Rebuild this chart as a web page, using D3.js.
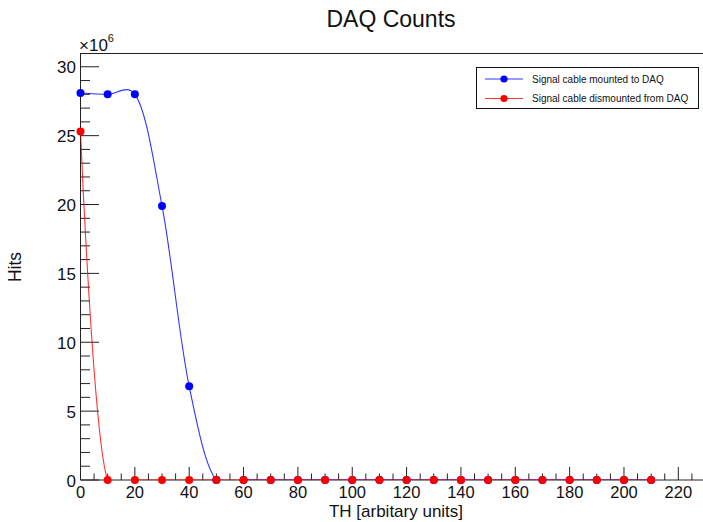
<!DOCTYPE html>
<html>
<head>
<meta charset="utf-8">
<script src="https://cdn.jsdelivr.net/npm/d3@7"></script>
<style>
  html, body { margin: 0; padding: 0; background: #fff; }
  svg { display: block; }
  text { font-family: "Liberation Sans", Arial, Helvetica, sans-serif; fill: #111; }
</style>
</head>
<body>
<svg id="chart" width="703" height="522"></svg>
<script>
// Threshold settings scanned (arbitrary units)
const thresholds = [0, 10, 20, 30, 40, 50, 60, 70, 80, 90, 100, 110, 120, 130, 140, 150, 160, 170, 180, 190, 200, 210];
// Hits, in units of 1e6
const mountedHits    = [28.1, 28.0, 28.0, 19.9, 6.8, 0, 0, 0, 0, 0, 0, 0, 0, 0, 0, 0, 0, 0, 0, 0, 0, 0];
const dismountedHits = [25.3, 0, 0, 0, 0, 0, 0, 0, 0, 0, 0, 0, 0, 0, 0, 0, 0, 0, 0, 0, 0, 0];
const seriesNames = ["Signal cable mounted to DAQ", "Signal cable dismounted from DAQ"];
const seriesColors = ["#0000ff", "#ff0000"];
const xMajorTicks = [0, 20, 40, 60, 80, 100, 120, 140, 160, 180, 200, 220];
const yMajorTicks = [0, 5, 10, 15, 20, 25, 30];

const svg = d3.select("#chart");
const plotLeft = 80.5, plotRight = 705.5, plotTop = 53, plotBottom = 480;

const x = d3.scaleLinear().domain([0, 230]).range([plotLeft, plotRight]);
const y = d3.scaleLinear().domain([0, 31]).range([plotBottom, plotTop]);

// Title
svg.append("text").attr("x", 391).attr("y", 27).attr("text-anchor", "middle")
  .style("font-size", "23px").text("DAQ Counts");

// Frame (top edge; the right edge lies beyond the canvas)
svg.append("line").attr("x1", plotLeft).attr("x2", plotRight).attr("y1", plotTop + 0.5).attr("y2", plotTop + 0.5)
  .attr("stroke", "#222").attr("stroke-width", 1);

// Clip for the curves
svg.append("defs").append("clipPath").attr("id", "plotclip")
  .append("rect").attr("x", plotLeft).attr("y", plotTop).attr("width", plotRight - plotLeft).attr("height", plotBottom - plotTop);

// X axis: major ticks every 20, minor every 5, drawn inward
const xMinor = d3.range(0, 231, 5).filter(v => v % 20 !== 0);
const xAxis = svg.append("g").attr("transform", `translate(0,${plotBottom})`);
xAxis.append("line").attr("x1", plotLeft).attr("x2", plotRight).attr("stroke", "#222");
xAxis.selectAll(".xmaj").data(xMajorTicks).join("line")
  .attr("x1", d => x(d)).attr("x2", d => x(d)).attr("y1", 0).attr("y2", -13).attr("stroke", "#222");
xAxis.selectAll(".xmin").data(xMinor).join("line")
  .attr("x1", d => x(d)).attr("x2", d => x(d)).attr("y1", 0).attr("y2", -6.5).attr("stroke", "#222");
xAxis.selectAll(".xlab").data(xMajorTicks).join("text")
  .attr("x", d => x(d)).attr("y", 17.5).attr("text-anchor", "middle")
  .style("font-size", "16.5px").text(d => d);

// Y axis: major ticks every 5, minor every 1
const yMinor = d3.range(0, 31, 1).filter(v => v % 5 !== 0);
const yAxis = svg.append("g").attr("transform", `translate(${plotLeft},0)`);
yAxis.append("line").attr("y1", plotTop).attr("y2", plotBottom).attr("stroke", "#222");
yAxis.selectAll(".ymaj").data(yMajorTicks).join("line")
  .attr("y1", d => y(d)).attr("y2", d => y(d)).attr("x1", 0).attr("x2", 18.5).attr("stroke", "#222");
yAxis.selectAll(".ymin").data(yMinor).join("line")
  .attr("y1", d => y(d)).attr("y2", d => y(d)).attr("x1", 0).attr("x2", 9.5).attr("stroke", "#222");
yAxis.selectAll(".ylab").data(yMajorTicks).join("text")
  .attr("x", -4.5).attr("y", d => y(d) + 6.5).attr("text-anchor", "end")
  .style("font-size", "17px").text(d => d);

// Exponent label
const expo = svg.append("text").attr("x", 79).attr("y", 51).style("font-size", "17px");
expo.append("tspan").text("\u00d710");
expo.append("tspan").attr("dy", -9).style("font-size", "11px").text("6");

// Axis titles
svg.append("text").attr("x", 396).attr("y", 516.5).attr("text-anchor", "middle")
  .style("font-size", "17px").text("TH [arbitary units]");
svg.append("text").attr("transform", "translate(21,267) rotate(-90)").attr("text-anchor", "middle")
  .style("font-size", "17.5px").text("Hits");

// Curves and markers
const series = [mountedHits, dismountedHits];
const line = d3.line()
  .x((d, i) => x(thresholds[i]))
  .y(d => y(d))
  .curve(d3.curveCatmullRom.alpha(0.25));

series.forEach((vals, k) => {
  svg.append("path").datum(vals).attr("d", line)
    .attr("clip-path", "url(#plotclip)")
    .attr("fill", "none").attr("stroke", seriesColors[k]).attr("stroke-width", 1.1)
    .attr("stroke-opacity", 0.8);
  svg.append("g").selectAll("circle").data(vals).join("circle")
    .attr("cx", (d, i) => x(thresholds[i])).attr("cy", d => y(d)).attr("r", 4)
    .attr("fill", seriesColors[k]);
});

// Legend
const lg = svg.append("g");
lg.append("rect").attr("x", 476.5).attr("y", 67.5).attr("width", 222).attr("height", 41)
  .attr("fill", "#fff").attr("stroke", "#111").attr("stroke-width", 1);
seriesNames.forEach((name, k) => {
  const cy = 79 + k * 19.5;
  lg.append("line").attr("x1", 485).attr("x2", 523).attr("y1", cy).attr("y2", cy)
    .attr("stroke", seriesColors[k]).attr("stroke-width", 1.1).attr("stroke-opacity", 0.8);
  lg.append("circle").attr("cx", 504).attr("cy", cy).attr("r", 3.6).attr("fill", seriesColors[k]);
  lg.append("text").attr("x", 532).attr("y", cy + 3.6).style("font-size", "10px").text(name);
});
</script>
</body>
</html>
